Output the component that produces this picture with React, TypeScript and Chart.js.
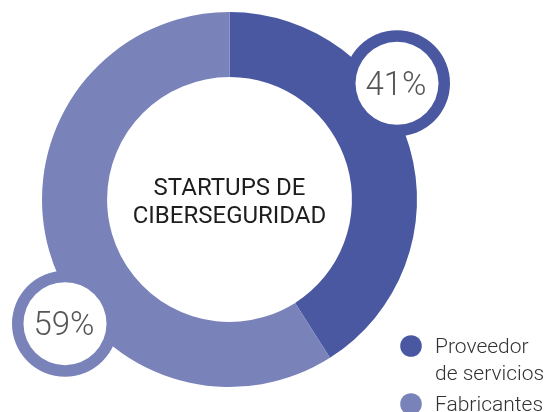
import React, { useEffect, useRef } from "react";
import { Chart, registerables } from "chart.js";

Chart.register(...registerables);

// ---- data ----
const categories = ["Proveedor de servicios", "Fabricantes"];
const legendLines = [["Proveedor", "de servicios"], ["Fabricantes"]];
const values = [41, 59];
const valueLabels = ["41%", "59%"];
const centerTitle = ["STARTUPS DE", "CIBERSEGURIDAD"];
const colors = ["#4a58a1", "#7983b9"];

const overlayPlugin = {
  id: "overlay",
  afterDatasetsDraw(chart: any) {
    const ctx = chart.ctx as CanvasRenderingContext2D;
    const meta = chart.getDatasetMeta(0);
    let cx = 0;
    let cy = 0;
    ctx.save();
    meta.data.forEach((arc: any, i: number) => {
      const p = arc.getProps(["x", "y", "startAngle", "endAngle", "outerRadius"], true);
      cx = p.x;
      cy = p.y;
      const mid = (p.startAngle + p.endAngle) / 2 - (19.7 * Math.PI) / 180;
      const d = p.outerRadius * 1.093;
      const bx = p.x + 1.5 + Math.cos(mid) * d;
      const by = p.y + 4 + Math.sin(mid) * d;
      ctx.beginPath();
      ctx.arc(bx, by, 53, 0, Math.PI * 2);
      ctx.fillStyle = colors[i];
      ctx.fill();
      ctx.beginPath();
      ctx.arc(bx, by, 41.5, 0, Math.PI * 2);
      ctx.fillStyle = "#ffffff";
      ctx.fill();
      const size = 33;
      ctx.font = `300 ${size}px Roboto`;
      ctx.fillStyle = "#555555";
      ctx.textAlign = "center";
      ctx.textBaseline = "alphabetic";
      ctx.fillText(valueLabels[i], bx - 1, by + size * 0.711 / 2);
    });

    // center title
    ctx.font = "400 24px Roboto";
    ctx.fillStyle = "#1e1e1e";
    ctx.textAlign = "center";
    ctx.textBaseline = "alphabetic";
    centerTitle.forEach((line, k) => {
      ctx.fillText(line, cx, cy - 4.5 + k * 28.3);
    });

    // legend
    const lx = 411;
    const tx = 435;
    const starts = [353, 411];
    ctx.font = "300 21px Roboto";
    ctx.textAlign = "left";
    legendLines.forEach((lines, i) => {
      ctx.beginPath();
      ctx.arc(lx, starts[i] - 7, 10.8, 0, Math.PI * 2);
      ctx.fillStyle = colors[i];
      ctx.fill();
      ctx.fillStyle = "#333333";
      lines.forEach((t, k) => ctx.fillText(t, tx, starts[i] + k * 27));
    });
    ctx.restore();
  },
};

export default function App() {
  const ref = useRef<HTMLCanvasElement>(null);
  useEffect(() => {
    document.body.style.margin = "0";
    if (!ref.current) return;
    const chart = new Chart(ref.current, {
      type: "doughnut",
      data: {
        labels: categories,
        datasets: [
          {
            data: values,
            backgroundColor: colors,
            borderWidth: 0,
          },
        ],
      },
      options: {
        responsive: false,
        animation: false,
        devicePixelRatio: 1,
        cutout: "65.3%",
        layout: { padding: { left: 42, top: 12, right: 128, bottom: 25 } },
        plugins: {
          legend: { display: false },
          tooltip: { enabled: false },
        },
      },
      plugins: [overlayPlugin],
    });
    return () => chart.destroy();
  }, []);
  return (
    <div style={{ position: "absolute", left: 0, top: 0, width: 545, height: 412 }}>
      <canvas ref={ref} width={545} height={412} />
    </div>
  );
}
